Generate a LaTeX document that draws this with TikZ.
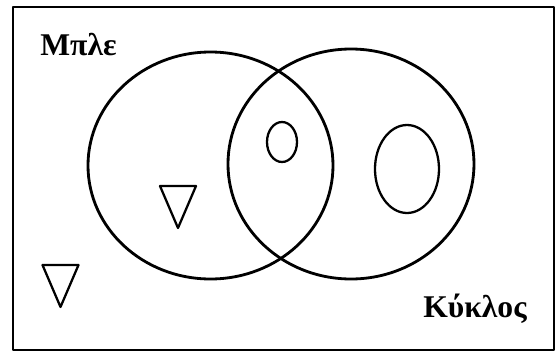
\documentclass[tikz,border=0pt]{standalone}
\usepackage{fontspec}
\setmainfont{Liberation Serif}
\usetikzlibrary{calc}

\begin{document}
\begin{tikzpicture}[x=0.02cm, y=-0.02cm, line join=round,
    setline/.style={line width=1.6pt},
    itemline/.style={line width=1.3pt},
    setname/.style={anchor=base west, inner sep=0pt, font=\fontsize{18}{18}\selectfont\bfseries}]
  \useasboundingbox (0,0) rectangle (556,352);
  \draw[line width=1.2pt] (13,7) rectangle (554,350);
  % the two sets
  \coordinate (blue) at (210.5,165.5);
  \coordinate (circ) at (351,164);
  \draw[setline] (blue) ellipse [x radius=122.5, y radius=113.5];
  \draw[setline] (circ) ellipse [x radius=123, y radius=115];
  % circles
  \coordinate (c1) at (282,142);
  \coordinate (c2) at (407,169);
  \draw[itemline] (c1) ellipse [x radius=15, y radius=20];
  \draw[itemline] (c2) ellipse [x radius=32, y radius=44];
  % triangles
  \foreach \tx/\ty [count=\i] in {178/186, 60.5/265} {
    \coordinate (t\i) at (\tx,\ty);
    \draw[itemline] ($(t\i)+(-18,0)$) -- ($(t\i)+(18,0)$) -- ($(t\i)+(0,42)$) -- cycle;
  }
  \node[setname] (mple) at (40,55) {Μπλε};
  \node[setname] (kyklos) at (423,317) {Κύκλος};
\end{tikzpicture}
\end{document}
